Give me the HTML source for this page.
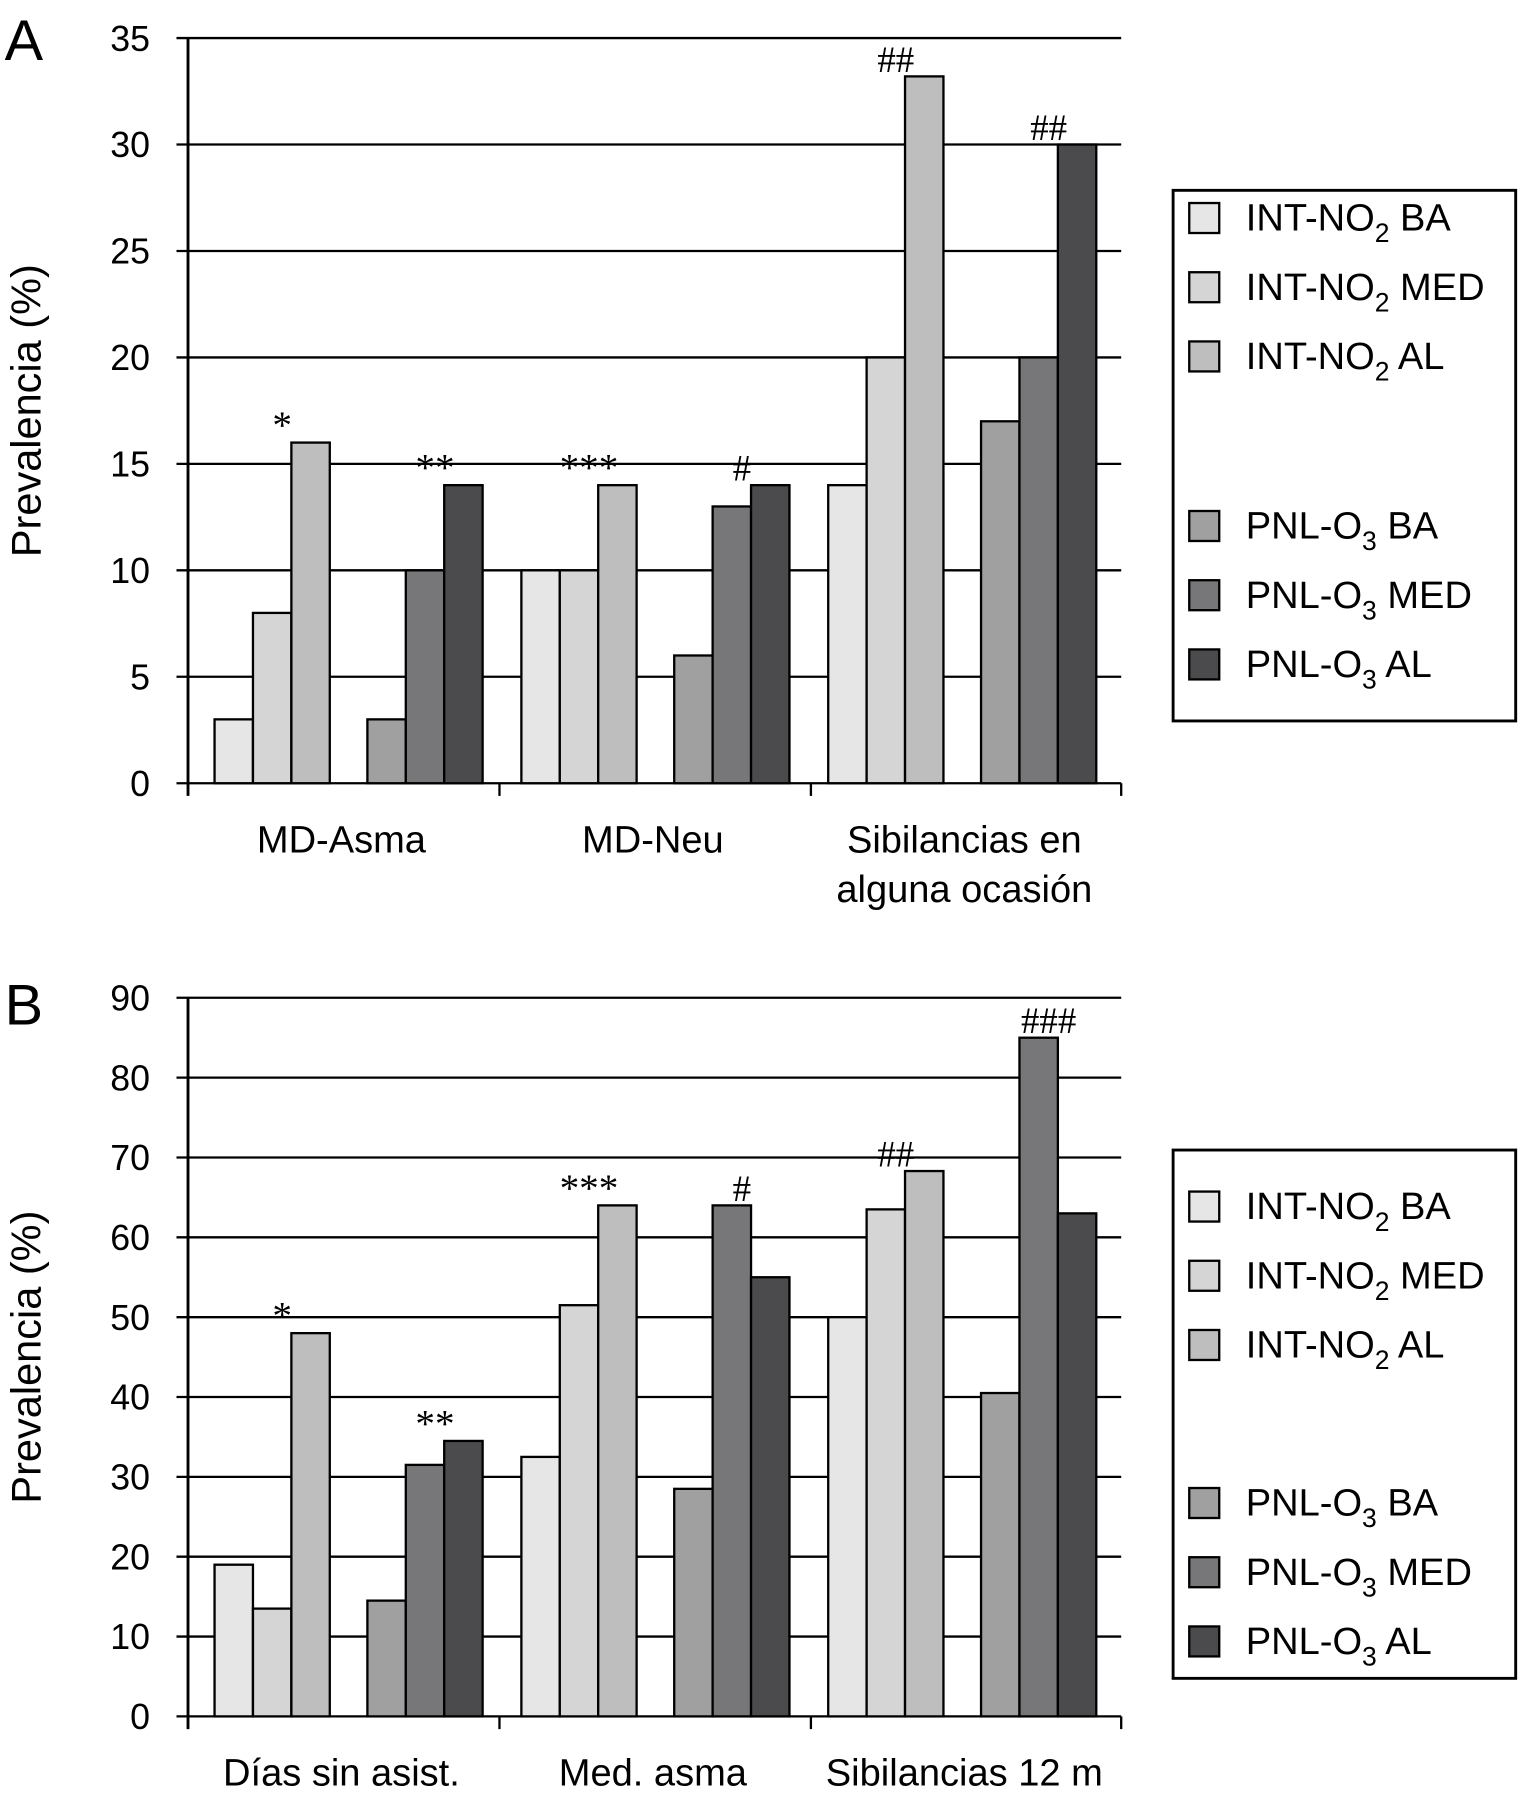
<!DOCTYPE html>
<html><head><meta charset="utf-8"><style>
html,body{margin:0;padding:0;background:#fff;}
svg{display:block;font-family:"Liberation Sans",Arial,sans-serif;}
.ann{font-family:"Liberation Serif",serif;}
</style></head><body>
<svg id="chart" width="1518" height="1808" viewBox="0 0 1316 1567.4" xmlns="http://www.w3.org/2000/svg"></svg>
<script>
// ---- Data ----
const seriesNames = ["INT-NO|2| BA","INT-NO|2| MED","INT-NO|2| AL","PNL-O|3| BA","PNL-O|3| MED","PNL-O|3| AL"];
const seriesColors = ["#e6e6e6","#d5d5d5","#bebebe","#a0a0a0","#77777a","#4b4b4e"];
const catsA = [["MD-Asma"],["MD-Neu"],["Sibilancias en","alguna ocasión"]];
const intA = [[3,8,16],[10,10,14],[14,20,33.2]];
const pnlA = [[3,10,14],[6,13,14],[17,20,30]];
const annIntA = ["*","***","##"];
const annPnlA = ["**","#","##"];
const ticksA = [0,5,10,15,20,25,30,35];
const catsB = [["Días sin asist."],["Med. asma"],["Sibilancias 12 m"]];
const intB = [[19,13.5,48],[32.5,51.5,64],[50,63.5,68.3]];
const pnlB = [[14.5,31.5,34.5],[28.5,64,55],[40.5,85,63]];
const annIntB = ["*","***","##"];
const annPnlB = ["**","#","###"];
const ticksB = [0,10,20,30,40,50,60,70,80,90];

const NS="http://www.w3.org/2000/svg";
const svg=document.getElementById('chart');
function mk(tag,attrs,parent){const e=document.createElementNS(NS,tag);for(const k in attrs)e.setAttribute(k,attrs[k]);(parent||svg).appendChild(e);return e;}

function panel(p){
  const g=mk('g',{});
  
  
  const x0=163,x1=972,yTop=p.yTop,yBot=p.yBot,max=p.ticks[p.ticks.length-1];
  const y=v=>yBot-(v/max)*(yBot-yTop);
  const L=mk('text',{x:4,y:p.letterY,'font-size':50},g);L.textContent=p.letter;
  
  
  p.ticks.forEach(t=>{
    const gl=mk('line',{x1:x0-10,x2:x1,y1:y(t),y2:y(t),stroke:'#000','stroke-width':2},g);
    
    
    const tl=mk('text',{x:130,y:y(t)+11,'font-size':31,'text-anchor':'end'},g);tl.textContent=t;
    
    
  });
  const ax=mk('line',{x1:x0,x2:x0,y1:yTop,y2:yBot+11,stroke:'#000','stroke-width':2.5},g);
  
  
  [433,703,972].forEach(xx=>{const t=mk('line',{x1:xx,x2:xx,y1:yBot,y2:yBot+11,stroke:'#000','stroke-width':2},g);
    
    });
  const yt=mk('text',{x:0,y:0,'font-size':36,'text-anchor':'middle',transform:`translate(35,${(yTop+yBot)/2}) rotate(-90)`},g);
  yt.textContent='Prevalencia (%)';
  
  
  const bw=33.3;
  for(let c=0;c<3;c++){
    [p.int[c],p.pnl[c]].forEach((vals,s)=>{
      const gx=186+c*266+s*132.5;
      vals.forEach((v,i)=>{
        const r=mk('rect',{x:gx+i*bw,y:y(v),width:bw,height:yBot-y(v),fill:seriesColors[s*3+i],stroke:'#000','stroke-width':2},g);
        
        
      });
      const ann=(s===0?p.annInt:p.annPnl)[c];
      const hv=Math.max(...vals);
      const at=mk('text',{x:gx+2*bw-8,y:y(hv)-4,'font-size':ann.startsWith('#')?32:34,'text-anchor':'middle',class:'ann'},g);
      at.textContent=ann;
      
      
    });
    const cl=mk('text',{x:296+c*270,y:yBot+60,'font-size':33,'text-anchor':'middle'},g);
    p.cats[c].forEach((line,li)=>{const ts=mk('tspan',{x:296+c*270,dy:li?43:0},cl);ts.textContent=line;});
    
    
  }
  const lg=mk('g',{},g);
  
  
  mk('rect',{x:1017,y:p.legY,width:297,height:p.legH,fill:'#fff',stroke:'#000','stroke-width':2.5},lg);
  p.legRows.forEach((ry,i)=>{
    const e=mk('g',{},lg);
    
    
    mk('rect',{x:1031,y:ry-13,width:26,height:26,fill:seriesColors[i],stroke:'#000','stroke-width':2},e);
    const parts=seriesNames[i].split('|');
    const t=mk('text',{x:1080,y:ry+11,'font-size':33},e);
    const a=mk('tspan',{},t);a.textContent=parts[0];
    const b=mk('tspan',{dy:10,'font-size':23},t);b.textContent=parts[1];
    const c2=mk('tspan',{dy:-10},t);c2.textContent=parts[2];
  });
}
panel({letter:'A',letterY:52,yTop:33,yBot:679,ticks:ticksA,int:intA,pnl:pnlA,annInt:annIntA,annPnl:annPnlA,cats:catsA,legY:165,legH:460,legRows:[189,249,309,456,516,576]});
panel({letter:'B',letterY:888,yTop:865,yBot:1488,ticks:ticksB,int:intB,pnl:pnlB,annInt:annIntB,annPnl:annPnlB,cats:catsB,legY:997,legH:458,legRows:[1046,1106,1166,1303,1363,1423]});
</script>
</body></html>
